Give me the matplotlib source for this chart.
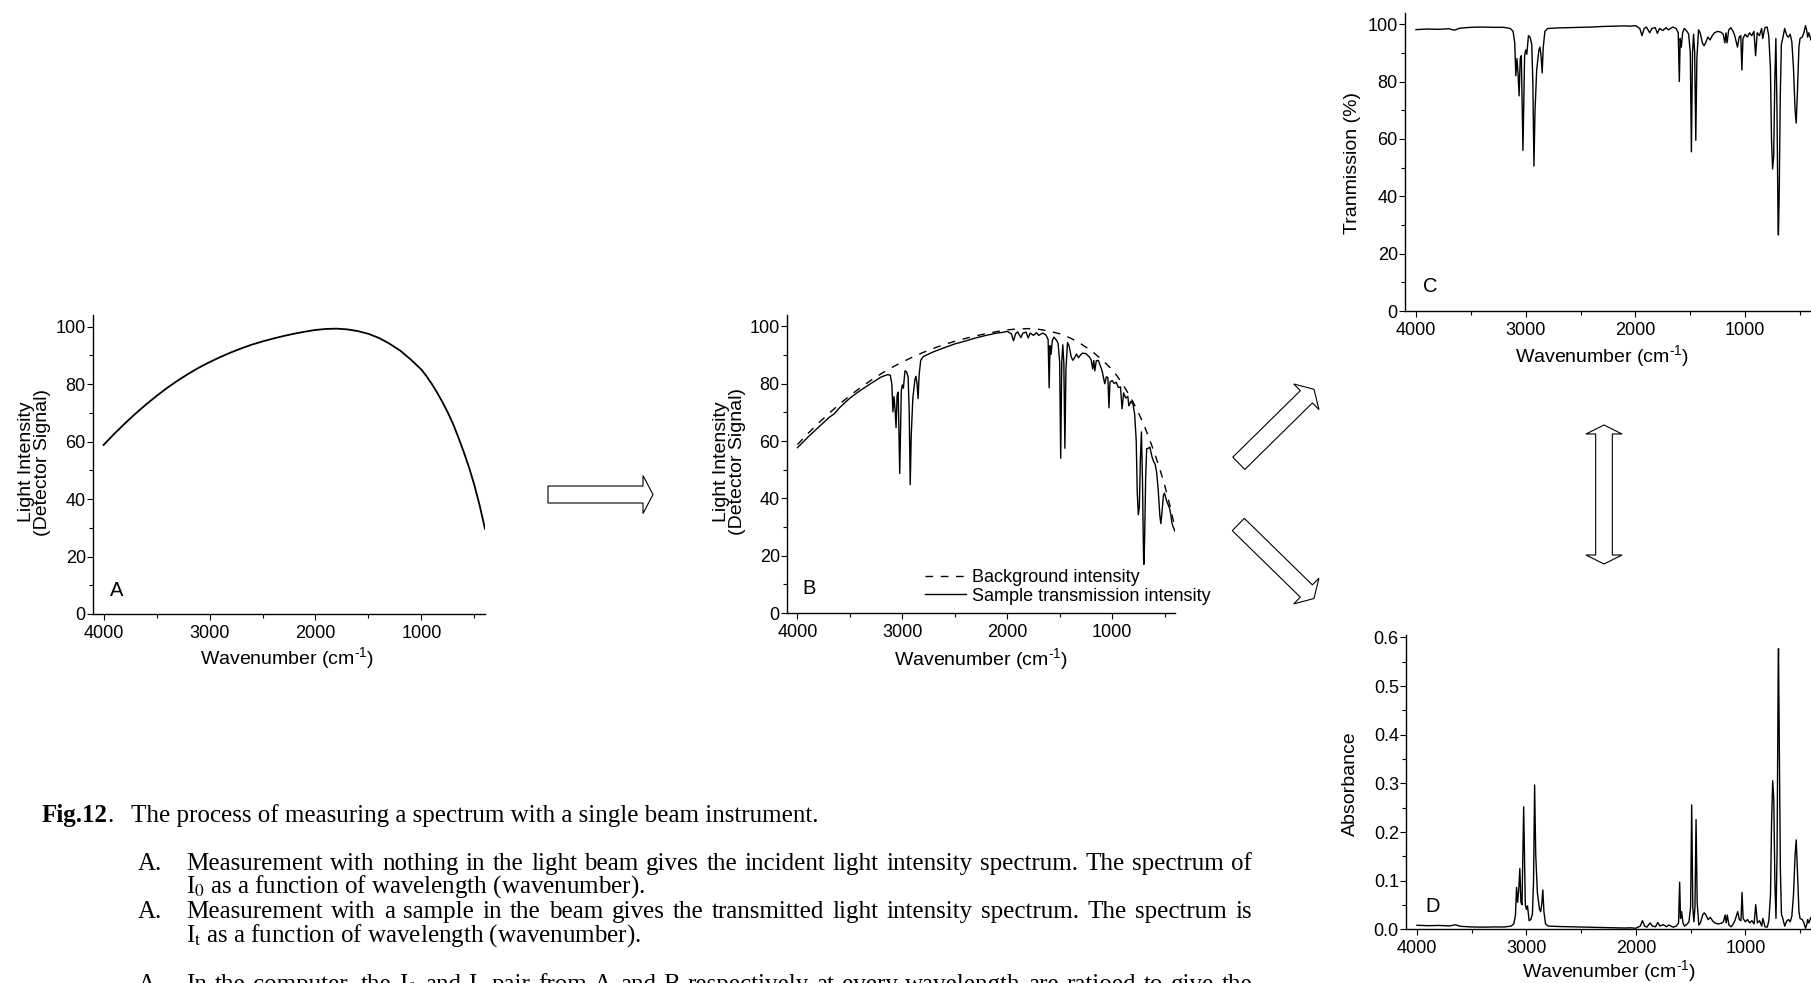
import numpy as np
import matplotlib
matplotlib.use("Agg")
import matplotlib.pyplot as plt
from matplotlib.patches import Polygon
from matplotlib.transforms import Affine2D
from matplotlib.ticker import MultipleLocator

W, H = 1811, 983

# ---- data ----------------------------------------------------------------

# background (incident) intensity, panel A and dashed curve in panel B
bg_wn = [4000, 3900, 3800, 3700, 3600, 3500, 3400, 3300, 3200, 3100,
         3000, 2900, 2800, 2700, 2600, 2500, 2400, 2300, 2200, 2100,
         2000, 1900, 1800, 1700, 1600, 1500, 1400, 1300, 1200, 1100,
         1000, 950, 900, 850, 800, 750, 700, 650, 600, 550,
         500, 450, 400]
bg_int = [58.8, 62.65, 66.25, 69.65, 72.85, 75.85, 78.65, 81.2, 83.55, 85.7,
          87.6, 89.35, 90.95, 92.4, 93.7, 94.8, 95.8, 96.7, 97.5, 98.2,
          98.8, 99.15, 99.25, 99.0, 98.4, 97.45, 96.0, 94.0, 91.6, 88.5,
          85.0, 82.6, 79.9, 76.9, 73.6, 70.0, 66.0, 61.3, 56.3, 50.9,
          44.8, 37.7, 29.6]

# sample spectrum grid shared by panels B, C and D
wn = [4000, 3900, 3800, 3700, 3650, 3600, 3500, 3400, 3300, 3200,
      3140, 3115, 3100, 3090, 3080, 3070, 3060, 3050, 3040, 3025,
      3010, 3000, 2990, 2975, 2960, 2945, 2935, 2925, 2915, 2900,
      2880, 2870, 2860, 2850, 2840, 2825, 2800, 2700, 2600, 2500,
      2400, 2300, 2200, 2100, 2050, 2000, 1960, 1940, 1920, 1900,
      1870, 1850, 1820, 1800, 1780, 1750, 1720, 1700, 1660, 1630,
      1610, 1600, 1592, 1582, 1570, 1555, 1530, 1515, 1500, 1490,
      1480, 1470, 1460, 1450, 1440, 1425, 1410, 1390, 1375, 1360,
      1340, 1320, 1300, 1280, 1250, 1220, 1200, 1185, 1175, 1165,
      1150, 1130, 1110, 1095, 1070, 1055, 1040, 1030, 1020, 1000,
      980, 960, 940, 920, 905, 890, 870, 850, 840, 820,
      800, 785, 770, 760, 750, 740, 730, 720, 710, 700,
      697, 690, 680, 670, 655, 640, 620, 605, 590, 575,
      560, 545, 535, 525, 510, 500, 480, 465, 450, 440,
      430, 420, 400]

# panel B, sample transmission intensity
sample_int = [57.7, 61.4, 64.8, 68.2, 69.5, 71.6, 75.0, 77.7, 80.1, 82.4,
              83.2, 83.0, 79.8, 70.2, 75.5, 71.4, 64.7, 76.0, 77.1, 48.7,
              77.6, 79.6, 78.5, 84.5, 84.2, 82.3, 71.0, 44.8, 62.3, 75.0,
              81.5, 82.6, 80.0, 74.8, 83.1, 88.2, 89.5, 91.2, 92.6, 93.9,
              94.9, 96.0, 96.9, 97.7, 97.9, 98.3, 97.4, 95.0, 97.5, 98.1,
              96.1, 97.7, 98.0, 96.0, 97.7, 96.9, 97.8, 96.9, 97.7, 97.0,
              95.4, 78.6, 93.3, 90.3, 95.1, 96.3, 95.2, 94.1, 87.7, 54.0,
              87.5, 93.6, 87.2, 57.5, 85.0, 94.4, 93.2, 89.5, 88.2, 88.9,
              90.4, 89.1, 90.1, 90.7, 90.5, 89.5, 88.4, 85.2, 88.1, 84.5,
              88.1, 88.1, 86.1, 84.5, 80.0, 82.4, 82.2, 71.6, 80.6, 81.1,
              80.1, 80.5, 78.7, 78.9, 71.3, 76.8, 75.0, 75.6, 72.3, 73.9,
              72.8, 69.4, 60.4, 42.1, 34.3, 36.9, 53.9, 63.2, 45.9, 19.4,
              17.0, 25.4, 46.9, 57.3, 57.5, 57.9, 54.6, 53.0, 52.0, 49.1,
              42.9, 34.2, 31.2, 34.9, 41.2, 41.8, 39.2, 37.8, 36.3, 34.3,
              31.5, 30.3, 28.5]

# panel C, transmission (%)
transmission = [98.1, 98.3, 98.2, 98.4, 97.9, 98.6, 98.9, 99.0, 98.9, 98.9,
                98.5, 97.5, 93.5, 82.0, 88.0, 83.0, 75.0, 88.0, 89.0, 56.0,
                89.0, 91.0, 89.5, 96.0, 95.5, 93.0, 80.0, 50.5, 70.0, 84.0,
                91.0, 92.0, 89.0, 83.0, 92.0, 97.5, 98.5, 98.7, 98.8, 98.9,
                99.0, 99.2, 99.3, 99.4, 99.3, 99.5, 98.5, 96.0, 98.5, 99.0,
                97.0, 98.5, 98.8, 96.8, 98.5, 97.8, 98.8, 98.0, 99.0, 98.5,
                97.0, 80.0, 95.0, 92.0, 97.0, 98.5, 97.5, 96.5, 90.0, 55.5,
                90.0, 96.5, 90.0, 59.5, 88.0, 98.0, 97.0, 93.5, 92.5, 93.5,
                95.5, 94.5, 96.0, 97.0, 97.5, 97.2, 96.5, 93.5, 97.0, 93.5,
                98.0, 98.8, 97.5, 96.0, 92.0, 95.5, 96.0, 84.0, 95.0, 96.5,
                95.5, 97.0, 96.0, 97.5, 89.0, 97.0, 96.0, 98.5, 95.0, 98.8,
                99.0, 96.0, 85.0, 60.0, 49.5, 54.0, 80.0, 95.0, 70.0, 30.0,
                26.5, 40.0, 75.0, 93.0, 95.5, 98.5, 96.0, 95.5, 96.5, 94.0,
                85.0, 70.0, 65.5, 75.0, 92.0, 95.0, 95.5, 97.0, 99.5, 98.0,
                95.5, 97.0, 94.5]

# panel D, absorbance
absorbance = [0.0083, 0.0074, 0.0079, 0.0070, 0.0092, 0.0061, 0.0048, 0.0044, 0.0048, 0.0048,
              0.0066, 0.0110, 0.0292, 0.0862, 0.0555, 0.0809, 0.1249, 0.0555, 0.0506, 0.2518,
              0.0506, 0.0410, 0.0482, 0.0177, 0.0200, 0.0315, 0.0969, 0.2967, 0.1549, 0.0757,
              0.0410, 0.0362, 0.0506, 0.0809, 0.0362, 0.0110, 0.0066, 0.0057, 0.0052, 0.0048,
              0.0044, 0.0035, 0.0031, 0.0026, 0.0031, 0.0022, 0.0066, 0.0177, 0.0066, 0.0044,
              0.0132, 0.0066, 0.0052, 0.0141, 0.0066, 0.0097, 0.0052, 0.0088, 0.0044, 0.0066,
              0.0132, 0.0969, 0.0223, 0.0362, 0.0132, 0.0066, 0.0110, 0.0155, 0.0458, 0.2557,
              0.0458, 0.0155, 0.0458, 0.2255, 0.0555, 0.0088, 0.0132, 0.0292, 0.0339, 0.0292,
              0.0200, 0.0246, 0.0177, 0.0132, 0.0110, 0.0123, 0.0155, 0.0292, 0.0132, 0.0292,
              0.0088, 0.0052, 0.0110, 0.0177, 0.0362, 0.0200, 0.0177, 0.0757, 0.0223, 0.0155,
              0.0200, 0.0132, 0.0177, 0.0110, 0.0506, 0.0132, 0.0177, 0.0066, 0.0223, 0.0052,
              0.0044, 0.0177, 0.0706, 0.2218, 0.3054, 0.2676, 0.0969, 0.0223, 0.1549, 0.5229,
              0.5768, 0.3979, 0.1249, 0.0315, 0.0200, 0.0066, 0.0177, 0.0200, 0.0155, 0.0269,
              0.0706, 0.1549, 0.1838, 0.1249, 0.0362, 0.0223, 0.0200, 0.0132, 0.0022, 0.0088,
              0.0200, 0.0132, 0.0246]

# caption text
caption_title = "The process of measuring a spectrum with a single beam instrument."
caption_items = [
    ("Measurement with nothing in the light beam gives the incident light intensity spectrum.  The spectrum of",
     r"I$_\mathrm{0}$ as a function of wavelength (wavenumber)."),
    ("Measurement with a sample in the beam gives the transmitted light intensity spectrum.  The spectrum is",
     r"I$_\mathrm{t}$ as a function of wavelength (wavenumber)."),
    (r"In the computer, the I$_\mathrm{0}$ and I$_\mathrm{t}$ pair from A and B respectively at every wavelength are ratioed to give the",
     None),
]

# ---- drawing ---------------------------------------------------------------

plt.rcParams['font.family'] = ['Liberation Sans', 'DejaVu Sans']
plt.rcParams['mathtext.fontset'] = 'custom'
plt.rcParams['mathtext.rm'] = 'Liberation Sans'
plt.rcParams['mathtext.it'] = 'Liberation Sans'
plt.rcParams['mathtext.default'] = 'regular'

fig = plt.figure(figsize=(W / 100, H / 100), dpi=100)
# pixel coordinates measured from the top-left corner
px = Affine2D().scale(1 / W, -1 / H).translate(0, 1) + fig.transFigure


def add_panel(l, t, r, b):
    return fig.add_axes([l / W, 1 - b / H, (r - l) / W, (b - t) / H])


def style(ax, ymax, ystep, yminor, xlab_pos, ylab, ylab_pos):
    ax.spines[['top', 'right']].set_visible(False)
    ax.spines[['left', 'bottom']].set_linewidth(1.0)
    ax.set_xlim(4100, 400)
    ax.set_ylim(0, ymax)
    ax.xaxis.set_major_locator(MultipleLocator(1000))
    ax.xaxis.set_minor_locator(MultipleLocator(500))
    ax.yaxis.set_major_locator(MultipleLocator(ystep))
    ax.yaxis.set_minor_locator(MultipleLocator(yminor))
    ax.tick_params(which='both', direction='out', width=0.8, labelsize=13)
    ax.tick_params(which='major', length=4.4)
    ax.tick_params(which='minor', length=2.6)
    ax.tick_params(axis='x', pad=3.5)
    ax.tick_params(axis='y', pad=0.8)
    ax.set_xlabel(r'Wavenumber (cm$^{\text{-1}}$)', fontsize=14, va='center')
    ax.xaxis.set_label_coords(*xlab_pos)
    ax.set_ylabel(ylab, fontsize=14, va='center', ha='center', linespacing=0.9)
    ax.yaxis.set_label_coords(*ylab_pos)


intensity_label = 'Light Intensity\n(Detector Signal)'

# A: incident light
axA = add_panel(93, 315, 485, 614)
axA.plot(bg_wn, bg_int, color='black', lw=1.3)
style(axA, 104, 20, 10, (0.495, -0.147), intensity_label, (-0.150, 0.508))
axA.text(3880, 8, 'A', fontsize=14.5, ha='center', va='center')

# B: background and sample
axB = add_panel(787, 315, 1175, 613)
l_samp, = axB.plot(wn, sample_int, color='black', lw=1.0)
l_bg, = axB.plot(bg_wn, bg_int, color='black', lw=1.0, ls=(0, (5.5, 5.5)))
style(axB, 104, 20, 10, (0.50, -0.153), intensity_label, (-0.149, 0.508))
axB.text(3890, 8.5, 'B', fontsize=14.5, ha='center', va='center')
axB.legend([l_bg, l_samp], ['Background intensity', 'Sample transmission intensity'],
           loc='lower left', bbox_to_anchor=(0.355, 0.028), frameon=False, fontsize=13,
           handlelength=2.3, handletextpad=0.3, labelspacing=0.1, borderpad=0,
           borderaxespad=0)

# C: transmission
axC = add_panel(1405, 12.7, 1811, 311)
axC.plot(wn, transmission, color='black', lw=1.0)
style(axC, 104, 20, 10, (0.486, -0.151), 'Tranmission (%)', (-0.1305, 0.496))
axC.text(3870, 8.4, 'C', fontsize=14.5, ha='center', va='center')

# D: absorbance
axD = add_panel(1406, 635, 1811, 929.3)
axD.plot(wn, absorbance, color='black', lw=1.0)
style(axD, 0.605, 0.1, 0.05, (0.50, -0.142), 'Absorbance', (-0.136, 0.494))
axD.text(3855, 0.046, 'D', fontsize=14.5, ha='center', va='center')


# block arrows between the panels
def block_arrow(tail, tip, shaft_hw, head_hw, head_len, double=False):
    tail, tip = np.array(tail, float), np.array(tip, float)
    d = tip - tail
    u = d / np.hypot(*d)
    n = np.array([-u[1], u[0]])
    hb = tip - u * head_len
    if double:
        tb = tail + u * head_len
        pts = [tb + n * shaft_hw, hb + n * shaft_hw, hb + n * head_hw, tip,
               hb - n * head_hw, hb - n * shaft_hw, tb - n * shaft_hw,
               tb - n * head_hw, tail, tb + n * head_hw]
    else:
        pts = [tail + n * shaft_hw, hb + n * shaft_hw, hb + n * head_hw, tip,
               hb - n * head_hw, hb - n * shaft_hw, tail - n * shaft_hw]
    fig.add_artist(Polygon(pts, closed=True, transform=px, facecolor='white',
                           edgecolor='black', lw=0.8))


block_arrow((548, 494.5), (653, 494.5), 8.5, 19, 10)
block_arrow((1238.8, 463.3), (1314, 389.3), 8.6, 18, 10.7)
block_arrow((1238.3, 524.5), (1314, 598.5), 8.6, 18, 10.7)
block_arrow((1604, 564), (1604, 425), 8.3, 18, 9, double=True)

# caption
cap_kw = dict(family='Liberation Serif', fontsize=18, math_fontfamily='stix',
              transform=px, va='baseline')
renderer = fig.canvas.get_renderer()


def width(t):
    return t.get_window_extent(renderer).width


def justify(text, x0, x1, y):
    words = text.split()
    objs = [fig.text(0, y, w, **cap_kw) for w in words]
    widths = [width(o) for o in objs]
    gap = max((x1 - x0 - sum(widths)) / (len(objs) - 1), 3)
    x = x0
    for o, w in zip(objs, widths):
        o.set_x(x)
        x += w + gap


fig_lbl = fig.text(41.6, 822, 'Fig.12', fontweight='bold', **cap_kw)
fig.text(41.6 + width(fig_lbl), 822, '.', **cap_kw)
fig.text(131, 822, caption_title, **cap_kw)
baselines = [(870, 893), (918, 942), (991, None)]
for (first, second), (y1, y2) in zip(caption_items, baselines):
    fig.text(137.5, y1, 'A.', **cap_kw)
    justify(first, 186, 1252, y1)
    if second:
        fig.text(186, y2, second, **cap_kw)

fig.savefig('out.png', dpi=100)
